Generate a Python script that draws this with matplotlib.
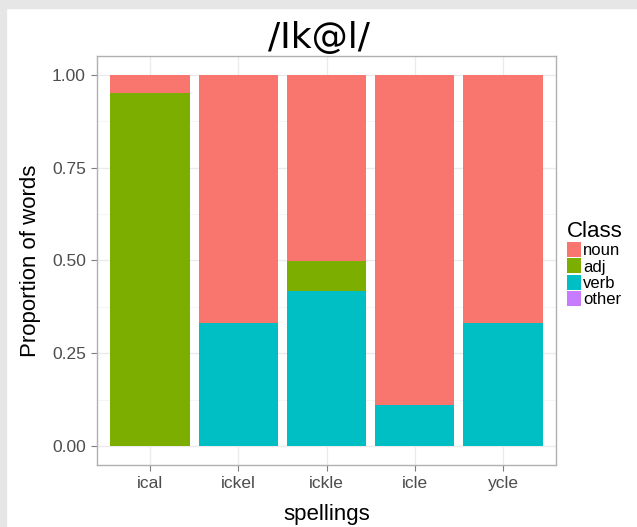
import matplotlib
matplotlib.use("Agg")
import matplotlib.pyplot as plt
from matplotlib.patches import Patch, Rectangle
import numpy as np

plt.rcParams['font.family'] = ['Liberation Sans', 'DejaVu Sans']

spellings = ["ical", "ickel", "ickle", "icle", "ycle"]
classes = ["noun", "adj", "verb", "other"]
noun = [0.05, 0.667, 0.5, 0.889, 0.667]
adj = [0.95, 0.0, 0.083, 0.0, 0.0]
verb = [0.0, 0.333, 0.417, 0.111, 0.333]
other = [0.0, 0.0, 0.0, 0.0, 0.0]
colors = {"noun": "#F8766D", "adj": "#7CAE00", "verb": "#00BFC4", "other": "#C77CFF"}

fig = plt.figure(figsize=(6.37, 5.27), dpi=100)
fig.patches.append(Rectangle((0, 0), 6/637, 1, transform=fig.transFigure, color="#E6E6E6", zorder=0))
fig.patches.append(Rectangle((0, 1 - 8/527), 1, 8/527, transform=fig.transFigure, color="#E6E6E6", zorder=0))

ax = fig.add_axes([97/637, (527-465)/527, (556-97)/637, (465-56)/527])
x = np.arange(1, len(spellings) + 1)
bottom = np.zeros(len(spellings))
for name, vals in [("other", other), ("verb", verb), ("adj", adj), ("noun", noun)]:
    ax.bar(x, vals, width=0.9, bottom=bottom, color=colors[name], zorder=2)
    bottom += np.array(vals)

ax.set_xlim(0.4, 5.6)
ax.set_ylim(-0.05, 1.05)
ax.set_yticks([0, 0.25, 0.5, 0.75, 1.0])
ax.set_yticklabels(["0.00", "0.25", "0.50", "0.75", "1.00"])
ax.set_yticks([0.125, 0.375, 0.625, 0.875], minor=True)
ax.set_xticks(x)
ax.set_xticklabels(spellings)
ax.grid(True, which='major', color="#EBEBEB", linewidth=1.0, zorder=0)
ax.grid(True, which='minor', axis='y', color="#F4F4F4", linewidth=0.6, zorder=0)
ax.tick_params(which='minor', length=0)
ax.tick_params(which='major', length=4, color="#7F7F7F", labelsize=12.5, labelcolor="#4D4D4D", pad=4)
for s in ax.spines.values():
    s.set_color("#B0B0B0")
    s.set_linewidth(1.0)
ax.set_axisbelow(True)
ax.set_xlabel("spellings", fontsize=16, labelpad=9)
ax.set_ylabel("Proportion of words", fontsize=16, labelpad=8)

fig.text(0.5, 1 - 38/527, "/Ik@l/", fontsize=26, ha='center', va='center', family='DejaVu Sans')

handles = [Patch(facecolor=colors[c], edgecolor='none') for c in classes]
leg = fig.legend(handles, classes, loc='upper left', bbox_to_anchor=(564/637, 1 - 218/527),
                 frameon=False, title="Class", title_fontsize=16, fontsize=12,
                 handlelength=0.8, handleheight=1.0, labelspacing=0.0, handletextpad=0.15,
                 borderpad=0.2, borderaxespad=0)
leg._legend_box.align = "left"
leg._legend_box.sep = 0

fig.savefig("out.png", dpi=100)
